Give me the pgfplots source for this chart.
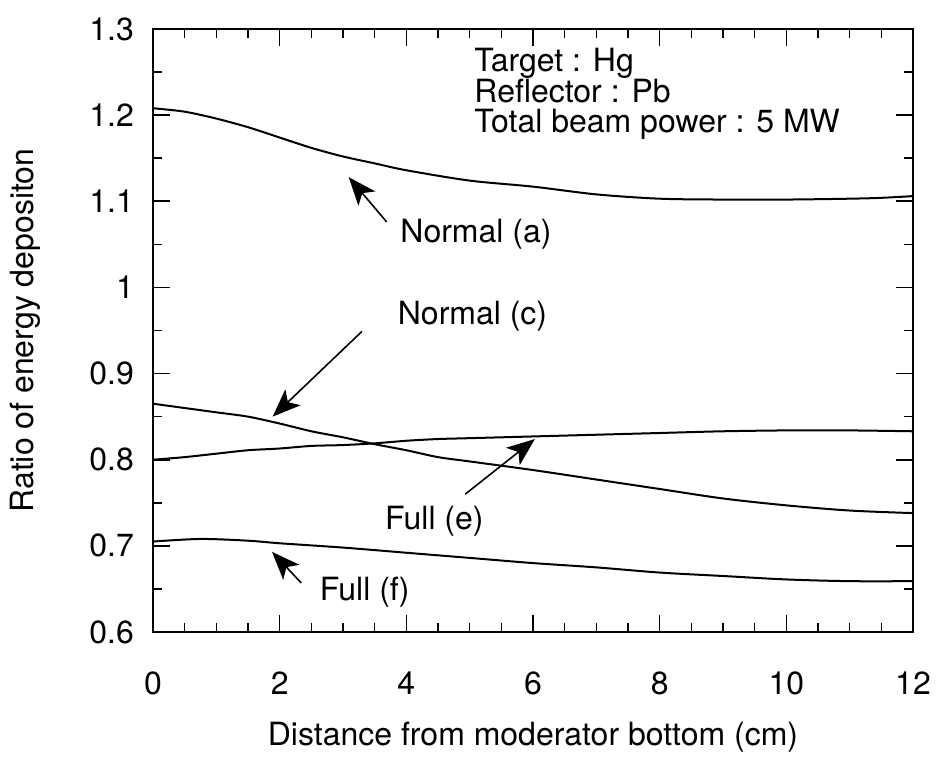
\documentclass[border=0pt]{standalone}
\usepackage{fontspec}
\setmainfont{TeX Gyre Heros}
\usepackage{pgfplots}
\pgfplotsset{compat=1.18}
\usetikzlibrary{arrows.meta}
\begin{document}
\fontsize{16}{18}\selectfont
\begin{tikzpicture}
\path[use as bounding box] (-76.5pt,-63.5pt) rectangle (395pt,316pt);
\begin{axis}[
  at={(0,0)}, anchor=south west,
  scale only axis, width=380pt, height=301.5pt,
  xmin=0, xmax=12, ymin=0.6, ymax=1.3,
  xtick={0,2,4,6,8,10,12},
  ytick={0.6,0.7,0.8,0.9,1.0,1.1,1.2,1.3},
  yticklabels={0.6,0.7,0.8,0.9,1,1.1,1.2,1.3},
  minor x tick num=3, minor y tick num=1,
  tick align=inside, tick pos=both,
  major tick length=8.5pt, minor tick length=4.5pt,
  tick style={black, line width=0.8pt},
  axis line style={line width=1pt},
  /pgf/number format/assume math mode=true,
  ticklabel style={font=\fontsize{16}{18}\selectfont},
  xticklabel style={yshift=-14.5pt},
  yticklabel style={xshift=-4pt},
  xlabel={Distance from moderator bottom (cm)},
  ylabel={Ratio of energy depositon},
  label style={font=\fontsize{16}{18}\selectfont},
  xlabel style={at={(axis description cs:0.5,-0.1741)}, anchor=center},
  ylabel style={at={(axis description cs:-0.1684,0.5)}, anchor=center},
  clip mode=individual,
]
% Normal (a)
\addplot[black, line width=1pt, smooth, mark=none] coordinates {
(0,1.208) (0.5,1.204) (1,1.196) (1.5,1.186) (2,1.174) (2.5,1.162) (3,1.152)
(3.5,1.144) (4,1.136) (5,1.124) (6,1.117) (7,1.108) (8,1.103) (9,1.102)
(10,1.102) (11,1.103) (11.5,1.104) (12,1.106)};
% Normal (c)
\addplot[black, line width=1pt, smooth, mark=none] coordinates {
(0,0.865) (0.5,0.860) (1,0.855) (1.5,0.850) (2,0.842) (2.5,0.833) (3,0.826)
(3.5,0.818) (4,0.811) (4.5,0.803) (5,0.798) (6,0.788) (7,0.777) (8,0.766)
(9,0.755) (10,0.747) (11,0.741) (12,0.738)};
% Full (e)
\addplot[black, line width=1pt, smooth, mark=none] coordinates {
(0,0.800) (0.5,0.803) (1,0.807) (1.5,0.811) (2,0.813) (2.5,0.816) (3,0.817)
(3.5,0.819) (4,0.822) (4.5,0.824) (5,0.825) (6,0.827) (7,0.829) (8,0.831)
(9,0.833) (10,0.834) (11,0.834) (12,0.833)};
% Full (f)
\addplot[black, line width=1pt, smooth, mark=none] coordinates {
(0,0.705) (0.75,0.708) (1.5,0.706) (2,0.703) (3,0.698) (4,0.692) (5,0.686)
(6,0.680) (7,0.675) (8,0.669) (9,0.665) (10,0.661) (11,0.659) (12,0.659)};

\node[anchor=base west, inner sep=0] at (axis cs:5.07,1.2501) {Target : Hg};
\node[anchor=base west, inner sep=0] at (axis cs:5.07,1.2147) {Reflector : Pb};
\node[anchor=base west, inner sep=0] at (axis cs:5.07,1.1793) {Total beam power : 5 MW};

\node[anchor=base west, inner sep=0] at (axis cs:3.90,1.0516) {Normal (a)};
\node[anchor=base west, inner sep=0] at (axis cs:3.86,0.9564) {Normal (c)};
\node[anchor=base west, inner sep=0] at (axis cs:3.66,0.7192) {Full (e)};
\node[anchor=base west, inner sep=0] at (axis cs:2.63,0.636) {Full (f)};

\draw[-{Stealth[length=14pt,width=11pt,inset=3.5pt]}, line width=0.8pt] (axis cs:3.69,1.076) -- (axis cs:3.09,1.128);
\draw[-{Stealth[length=14pt,width=11pt,inset=3.5pt]}, line width=0.8pt] (axis cs:3.30,0.949) -- (axis cs:1.89,0.850);
\draw[-{Stealth[length=14pt,width=11pt,inset=3.5pt]}, line width=0.8pt] (axis cs:4.93,0.760) -- (axis cs:6.03,0.824);
\draw[-{Stealth[length=14pt,width=11pt,inset=3.5pt]}, line width=0.8pt] (axis cs:2.34,0.657) -- (axis cs:1.88,0.693);
\end{axis}
\end{tikzpicture}
\end{document}
